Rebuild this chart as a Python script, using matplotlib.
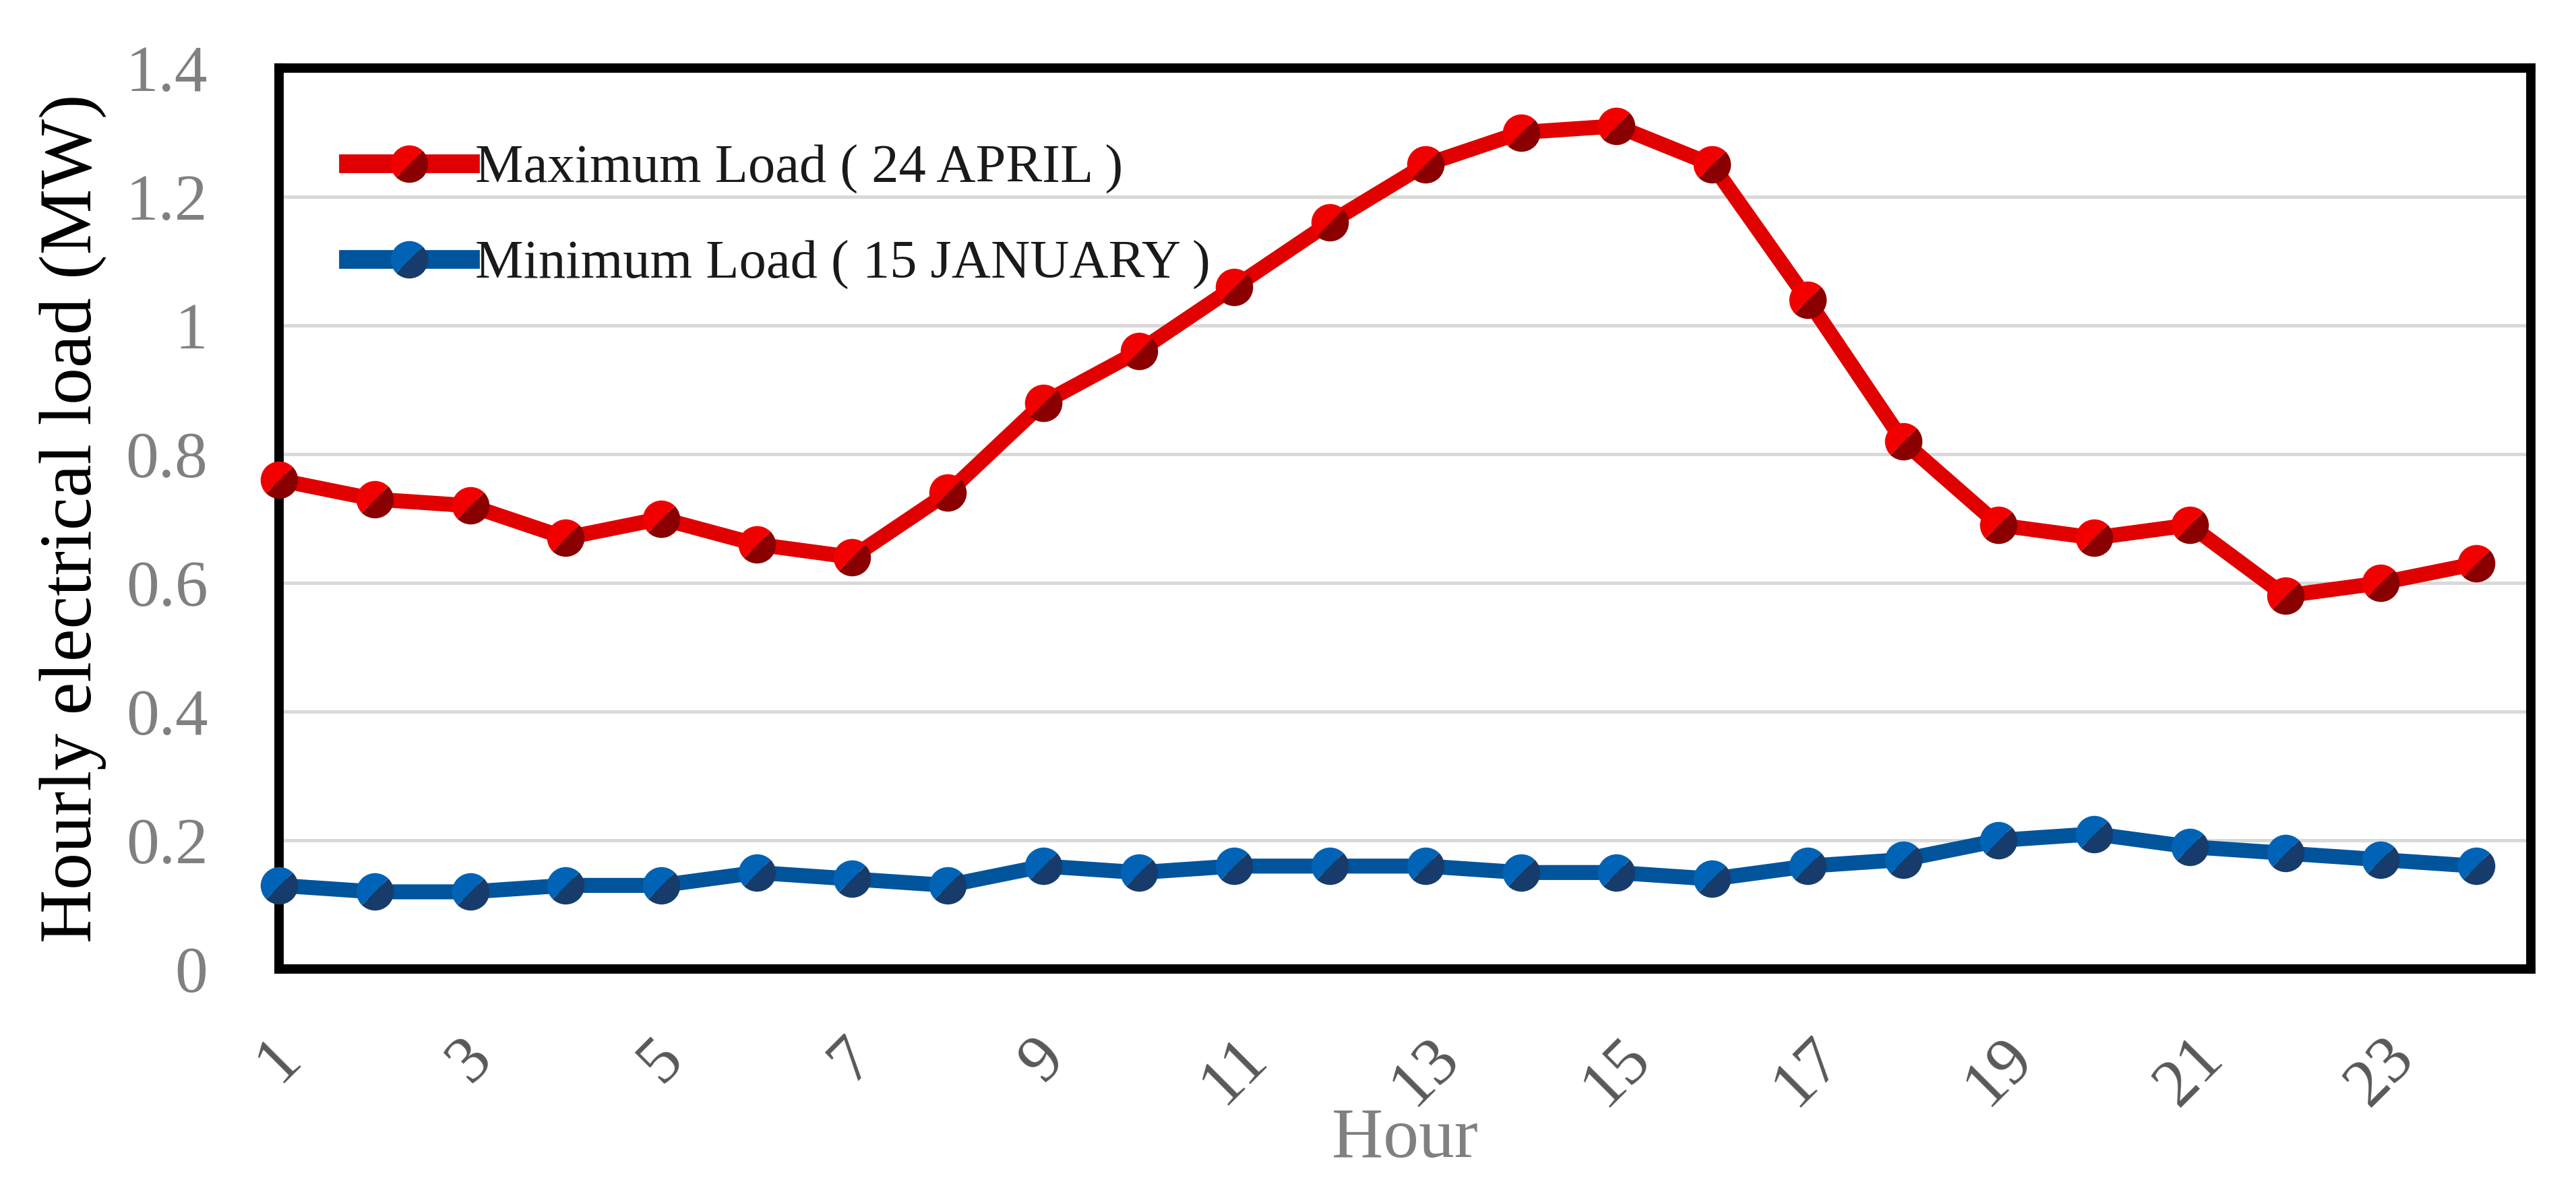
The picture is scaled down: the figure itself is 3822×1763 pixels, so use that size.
import numpy as np
import matplotlib
matplotlib.use("Agg")
import matplotlib.pyplot as plt
from matplotlib.markers import MarkerStyle
from matplotlib.transforms import Affine2D

plt.rcParams['font.family'] = ['Liberation Serif', 'DejaVu Serif']

# hourly load, MW
hours = np.arange(1, 25)
max_load = [0.76, 0.73, 0.72, 0.67, 0.70, 0.66, 0.64, 0.74, 0.88, 0.96, 1.06, 1.16,
            1.25, 1.30, 1.31, 1.25, 1.04, 0.82, 0.69, 0.67, 0.69, 0.58, 0.60, 0.63]
min_load = [0.13, 0.12, 0.12, 0.13, 0.13, 0.15, 0.14, 0.13, 0.16, 0.15, 0.16, 0.16,
            0.16, 0.15, 0.15, 0.14, 0.16, 0.17, 0.20, 0.21, 0.19, 0.18, 0.17, 0.16]
max_label = "Maximum Load ( 24 APRIL )"
min_label = "Minimum Load ( 15 JANUARY )"

x_ticks = list(range(1, 24, 2))
y_ticks = [0, 0.2, 0.4, 0.6, 0.8, 1.0, 1.2, 1.4]
y_ticklabels = ["0", "0.2", "0.4", "0.6", "0.8", "1", "1.2", "1.4"]

fig = plt.figure(figsize=(38.23, 17.63), dpi=100)
ax = fig.add_axes([0.1083, 0.1843, 0.8739, 0.7584])

# shaded ball marker: light upper-left half, dark lower-right half
ball = MarkerStyle('o', fillstyle='top', transform=Affine2D().rotate_deg(45))

ax.plot(hours, max_load, color='#e00000', lw=16, marker=ball, markersize=40,
        markerfacecolor='#f20000', markerfacecoloralt='#8a0000', mew=0,
        clip_on=False, zorder=4, label=max_label)
ax.plot(hours, min_load, color='#00549c', lw=16, marker=ball, markersize=40,
        markerfacecolor='#0063b5', markerfacecoloralt='#173c6c', mew=0,
        clip_on=False, zorder=4, label=min_label)

ax.set_xlim(1, 24.57)
ax.set_ylim(0, 1.4)

ax.set_yticks(y_ticks)
ax.set_yticklabels(y_ticklabels)
ax.set_xticks(x_ticks)
ax.set_xticklabels([str(h) for h in x_ticks], rotation=45, ha='center')

ax.tick_params(axis='y', length=0, pad=76, labelsize=70, labelcolor='#808080')
ax.tick_params(axis='x', length=0, pad=62, labelsize=72, labelcolor='#595959')

ax.yaxis.grid(True, color='#d9d9d9', lw=3.6)
ax.set_axisbelow(True)

for s in ax.spines.values():
    s.set_linewidth(10)
    s.set_color('black')
    s.set_capstyle('projecting')
    s.set_zorder(3)

ax.set_ylabel("Hourly electrical load (MW)", fontsize=79, color='black')
ax.yaxis.label.set_va('center')
ax.yaxis.set_label_coords(-0.0913, 0.5)

ax.set_xlabel("Hour", fontsize=76, color='#808080')
ax.xaxis.label.set_va('center')
ax.xaxis.set_label_coords(0.5, -0.19)

leg = ax.legend(loc='center left', bbox_to_anchor=(0.1352, 0.817),
                bbox_transform=fig.transFigure, frameon=False, fontsize=58,
                borderpad=0, borderaxespad=0, handlelength=2.25,
                handletextpad=0.08, labelspacing=0.85)
for t in leg.get_texts():
    t.set_color('#1a1a1a')
for h in leg.legend_handles:
    h.set_linewidth(20)

fig.savefig("out.png", dpi=100)
